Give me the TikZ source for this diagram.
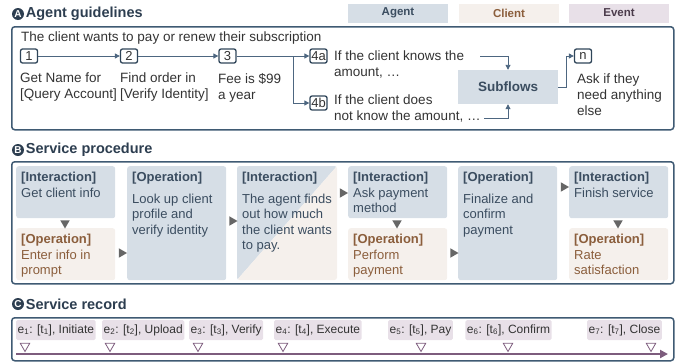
\documentclass[tikz,border=0pt]{standalone}
\usepackage{fontspec}
\setmainfont{Liberation Sans}
\usetikzlibrary{arrows.meta,positioning,calc,shapes.geometric}
\definecolor{frame}{HTML}{3F5A73}
\definecolor{stepline}{HTML}{2F4559}
\definecolor{flowline}{HTML}{4D6680}
\definecolor{badge}{HTML}{2D3E50}
\definecolor{bodytext}{HTML}{333333}
\definecolor{agentfill}{HTML}{D6DEE6}
\definecolor{agenttext}{HTML}{3B4D60}
\definecolor{clientfill}{HTML}{F5F0EC}
\definecolor{clienttext}{HTML}{8B5E3C}
\definecolor{eventfill}{HTML}{E8E0E8}
\definecolor{eventtext}{HTML}{4B3B4B}
\definecolor{evline}{HTML}{7D5C7D}
\definecolor{trigrey}{HTML}{666666}

\begin{document}
\begin{tikzpicture}[
  x=1pt, y=-1pt,
  every node/.style={font=\fontsize{13.5}{16}\selectfont, text=bodytext},
  secbox/.style={draw=frame, line width=1.5pt, rounded corners=3pt,
    anchor=north west, inner sep=0pt},
  badgec/.style={circle, fill=badge, text=white, inner sep=0pt,
    minimum size=12pt, font=\fontsize{10}{10}\selectfont\bfseries},
  sectitle/.style={anchor=west, inner sep=0pt,
    font=\fontsize{14.5}{16}\selectfont\bfseries, text=badge},
  legend/.style={minimum width=100pt, minimum height=19pt, inner sep=0pt,
    font=\fontsize{11.5}{12}\selectfont\bfseries},
  stepnum/.style={draw=stepline, line width=1.3pt, rounded corners=2pt,
    minimum width=17pt, minimum height=14pt, inner sep=1pt,
    font=\fontsize{13}{13}\selectfont},
  steptext/.style={anchor=north west, align=left, inner sep=0pt},
  flow/.style={-{Triangle[length=5pt, width=5pt]}, draw=flowline, line width=0.9pt},
  agentcard/.style={fill=agentfill, rounded corners=2.5pt, anchor=north west,
    minimum width=99pt, inner sep=0pt},
  clientcard/.style={fill=clientfill, rounded corners=2.5pt, anchor=north west,
    minimum width=99pt, minimum height=52pt, inner sep=0pt},
  agentlbl/.style={anchor=north west, align=left, inner sep=0pt, text=agenttext,
    font=\fontsize{13}{15.5}\selectfont},
  clientlbl/.style={anchor=north west, align=left, inner sep=0pt, text=clienttext,
    font=\fontsize{13}{15.5}\selectfont},
  triright/.style={regular polygon, regular polygon sides=3, shape border rotate=-90,
    fill=trigrey, inner sep=0pt, minimum size=11pt},
  tridown/.style={regular polygon, regular polygon sides=3, shape border rotate=180,
    fill=trigrey, inner sep=0pt, minimum size=11pt},
  evtag/.style={fill=eventfill, rounded corners=1.5pt, minimum height=20pt,
    inner xsep=1.5pt, inner ysep=0pt, font=\fontsize{12}{14}\selectfont},
  evmark/.style={regular polygon, regular polygon sides=3, shape border rotate=180,
    draw=evline, fill=white, line width=0.8pt, inner sep=0pt, minimum size=11pt},
  timeline/.style={-{Triangle[length=8pt, width=8pt]}, draw=evline, line width=2.7pt}
]
  \useasboundingbox (0,0) rectangle (676,362);

  % legend
  \node[legend, fill=agentfill, text=agenttext] (lgagent) at (398,13) {Agent};
  \node[legend, fill=clientfill, text=clienttext] (lgclient) at (509,13) {Client};
  \node[legend, fill=eventfill, text=eventtext] (lgevent) at (619,13) {Event};

  % A: agent guidelines
  \node[badgec] (badgeA) at (18,14) {A};
  \node[sectitle, right=1.5pt of badgeA] (titleA) {Agent guidelines};
  \node[secbox, minimum width=662pt, minimum height=103pt] (boxA) at (11,26) {};
  \node[anchor=base west, inner sep=0pt] (intent) at (21,41.5) {The client wants to pay or renew their subscription};

  \node[stepnum] (s1) at (29,56) {1};
  \node[stepnum] (s2) at (129,56) {2};
  \node[stepnum] (s3) at (227.5,56) {3};
  \node[stepnum] (s4a) at (318.5,56) {4a};
  \node[stepnum] (s4b) at (318.5,103) {4b};
  \node[stepnum] (sn) at (583,56) {n};

  \node[steptext] (t1) at (20,73) {Get Name for\\{[Query Account]}};
  \node[steptext] (t2) at (120,73) {Find order in\\{[Verify Identity]}};
  \node[steptext] (t3) at (218,73) {Fee is \$99\\a year};
  \node[steptext] (t4a) at (334,51) {If the client knows the\\amount, \dots};
  \node[steptext] (t4b) at (334,95) {If the client does\\not know the amount, \dots};
  \node[steptext] (tn) at (577,74) {Ask if they\\need anything\\else};

  \node[fill=agentfill, minimum width=100pt, minimum height=34pt, inner sep=0pt,
    font=\fontsize{13.5}{14}\selectfont\bfseries, text=agenttext] (sub) at (508,87) {Subflows};

  \coordinate (fork) at (293,56);
  \coordinate (from4a) at (480,56);
  \coordinate (from4b) at (484,118);
  \draw[flow] (s1) -- (s2);
  \draw[flow] (s2) -- (s3);
  \draw[flow] (s3) -- (s4a);
  \draw[flow] (fork) |- (s4b);
  \draw[flow] (from4a) -| (sub.north);
  \draw[flow] (from4b) -| (sub.south);
  \draw[flow] (sub.east) -- ++(8,0) |- (sn.west);

  % B: service procedure
  \node[badgec] (badgeB) at (18,150) {B};
  \node[sectitle, right=1.5pt of badgeB] (titleB) {Service procedure};
  \node[secbox, minimum width=662pt, minimum height=122pt] (boxB) at (11,161) {};

  \node[agentcard, minimum height=52pt] (c1a) at (16,166) {};
  \node[clientcard] (c1c) at (16,228) {};
  \node[agentcard, minimum height=114pt] (c2) at (127,166) {};
  \begin{scope}
    \clip[rounded corners=2.5pt] (237,166) rectangle (337,280);
    \fill[agentfill] (237,166) -- (337,166) -- (237,280) -- cycle;
    \fill[clientfill] (337,166) -- (337,280) -- (237,280) -- cycle;
  \end{scope}
  \node[anchor=north west, minimum width=100pt, minimum height=114pt, inner sep=0pt] (c3) at (237,166) {};
  \node[agentcard, minimum height=52pt] (c4a) at (348,166) {};
  \node[clientcard] (c4c) at (348,228) {};
  \node[agentcard, minimum height=114pt] (c5) at (458,166) {};
  \node[agentcard, minimum height=52pt] (c6a) at (569,166) {};
  \node[clientcard] (c6c) at (569,228) {};

  \node[agentlbl] at ($(c1a.north west)+(5,6)$) {\textbf{[Interaction]}\\Get client info};
  \node[clientlbl] at ($(c1c.north west)+(5,6)$) {\textbf{[Operation]}\\Enter info in\\prompt};
  \node[agentlbl] at ($(c2.north west)+(5,6)$) {\textbf{[Operation]}\\[6pt]Look up client\\profile and\\verify identity};
  \node[agentlbl] at ($(c3.north west)+(5,6)$) {\textbf{[Interaction]}\\[6pt]The agent finds\\out how much\\the client wants\\to pay.};
  \node[agentlbl] at ($(c4a.north west)+(5,6)$) {\textbf{[Interaction]}\\Ask payment\\method};
  \node[clientlbl] at ($(c4c.north west)+(5,6)$) {\textbf{[Operation]}\\Perform\\payment};
  \node[agentlbl] at ($(c5.north west)+(5,6)$) {\textbf{[Operation]}\\[6pt]Finalize and\\confirm\\payment};
  \node[agentlbl] at ($(c6a.north west)+(5,6)$) {\textbf{[Interaction]}\\Finish service};
  \node[clientlbl] at ($(c6c.north west)+(5,6)$) {\textbf{[Operation]}\\Rate\\satisfaction};

  \node[tridown] (d1) at (65,223) {};
  \node[tridown] (d4) at (397,223) {};
  \node[tridown] (d6) at (618,223) {};
  \node[triright] (r12) at (121.5,253) {};
  \node[triright] (r23) at (232,221) {};
  \node[triright] (r34) at (342.5,193) {};
  \node[triright] (r45) at (453,253) {};
  \node[triright] (r56) at (563.5,187) {};

  % C: service record
  \node[badgec] (badgeC) at (18,304) {C};
  \node[sectitle, right=1.5pt of badgeC] (titleC) {Service record};
  \node[secbox, minimum width=662pt, minimum height=43pt] (boxC) at (11,317) {};

  \node[evtag, anchor=west] (e1) at (16,330) {e\textsubscript{1}: [t\textsubscript{1}], Initiate};
  \node[evtag, anchor=west] (e2) at (102,330) {e\textsubscript{2}: [t\textsubscript{2}], Upload};
  \node[evtag, anchor=west] (e3) at (189,330) {e\textsubscript{3}: [t\textsubscript{3}], Verify};
  \node[evtag, anchor=west] (e4) at (274,330) {e\textsubscript{4}: [t\textsubscript{4}], Execute};
  \node[evtag] (e5) at (420.5,330) {e\textsubscript{5}: [t\textsubscript{5}], Pay};
  \node[evtag] (e6) at (508.5,330) {e\textsubscript{6}: [t\textsubscript{6}], Confirm};
  \node[evtag, anchor=east] (e7) at (662,330) {e\textsubscript{7}: [t\textsubscript{7}], Close};

  \coordinate (tlstart) at (16,354);
  \coordinate (tlend) at (668,354);
  \draw[timeline] (tlstart) -- (tlend);
  \foreach \x [count=\i] in {25,110,198,283,421,508,651}
    \node[evmark] (m\i) at (\x,346) {};
\end{tikzpicture}
\end{document}
